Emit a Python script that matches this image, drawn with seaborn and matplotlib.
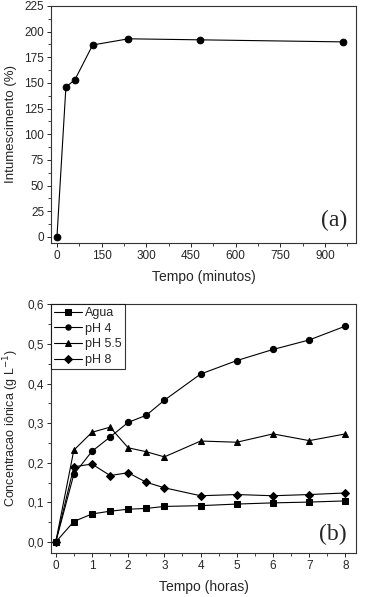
import numpy as np
import pandas as pd
import seaborn as sns
import matplotlib.pyplot as plt
from matplotlib.ticker import MultipleLocator, FuncFormatter

# (a) swelling vs time
tempo_min = [0, 30, 60, 120, 240, 480, 960]
intumesc = [0, 146, 153, 187, 193, 192, 190]

# (b) ionic concentration vs time
tempo_h = [0, 0.5, 1, 1.5, 2, 2.5, 3, 4, 5, 6, 7, 8]
agua = [0, 0.052, 0.071, 0.078, 0.083, 0.085, 0.090, 0.092, 0.096, 0.099, 0.101, 0.104]
ph4 = [0, 0.171, 0.229, 0.265, 0.302, 0.320, 0.358, 0.424, 0.458, 0.486, 0.510, 0.545]
ph55 = [0, 0.232, 0.277, 0.290, 0.238, 0.228, 0.215, 0.255, 0.252, 0.273, 0.256, 0.273]
ph8 = [0, 0.190, 0.197, 0.168, 0.175, 0.151, 0.137, 0.117, 0.120, 0.117, 0.120, 0.124]
series = ["Agua", "pH 4", "pH 5.5", "pH 8"]
marks = ["s", "o", "^", "D"]

sns.set_style("ticks")
plt.rcParams['font.family'] = ['Liberation Sans', 'DejaVu Sans']
plt.rcParams['xtick.direction'] = 'out'
plt.rcParams['ytick.direction'] = 'out'

fig = plt.figure(figsize=(3.67, 5.97), dpi=100)
ax1 = fig.add_axes([0.139, 0.593, 0.831, 0.397])
ax2 = fig.add_axes([0.139, 0.074, 0.831, 0.417])

dfa = pd.DataFrame({"t": tempo_min, "v": intumesc})
sns.lineplot(data=dfa, x="t", y="v", ax=ax1, color="black", marker="o",
             markersize=4.8, linewidth=0.8, markeredgecolor="black")
ax1.set_xlim(-20, 1004)
ax1.set_ylim(-6, 225)
ax1.xaxis.set_major_locator(MultipleLocator(150))
ax1.xaxis.set_minor_locator(MultipleLocator(75))
ax1.yaxis.set_major_locator(MultipleLocator(25))
ax1.yaxis.set_minor_locator(MultipleLocator(12.5))
ax1.set_xlabel("Tempo (minutos)", fontsize=10, labelpad=6)
ax1.set_ylabel("Intumescimento (%)", fontsize=9.5, labelpad=5)
ax1.text(0.97, 0.05, "(a)", transform=ax1.transAxes, ha="right", va="bottom",
         fontsize=17, family="Liberation Serif")

dfb = pd.DataFrame({"t": tempo_h * 4, "v": agua + ph4 + ph55 + ph8,
                    "s": np.repeat(series, len(tempo_h))})
sns.lineplot(data=dfb, x="t", y="v", style="s", markers=marks, dashes=False,
             ax=ax2, color="black", markersize=4.5, linewidth=0.8,
             markeredgecolor="black")
ax2.set_xlim(-0.13, 8.29)
ax2.set_ylim(-0.027, 0.601)
ax2.xaxis.set_major_locator(MultipleLocator(1))
ax2.xaxis.set_minor_locator(MultipleLocator(0.5))
ax2.yaxis.set_major_locator(MultipleLocator(0.1))
ax2.yaxis.set_minor_locator(MultipleLocator(0.05))
ax2.yaxis.set_major_formatter(FuncFormatter(lambda v, p: f"{v:.1f}".replace(".", ",")))
ax2.set_xlabel("Tempo (horas)", fontsize=10, labelpad=6)
ax2.set_ylabel("Concentracao iônica (g L$^{-1}$)", fontsize=9, labelpad=5)
ax2.text(0.97, 0.03, "(b)", transform=ax2.transAxes, ha="right", va="bottom",
         fontsize=17, family="Liberation Serif")
leg = ax2.legend(loc="upper left", fontsize=9, frameon=True, fancybox=False,
                 borderaxespad=0.0, handlelength=2.2, handletextpad=0.3,
                 borderpad=0.25, labelspacing=0.3, markerscale=0.85)
leg.get_frame().set_edgecolor("black")
leg.get_frame().set_linewidth(0.8)

for ax in (ax1, ax2):
    for sp in ax.spines.values():
        sp.set_visible(True)
        sp.set_linewidth(0.8)
        sp.set_color("#333333")
    ax.tick_params(which="major", labelsize=8.5, length=3, width=0.7, pad=2)
    ax.tick_params(which="minor", length=2, width=0.6)
    ax.tick_params(top=False, right=False)

fig.savefig("out.png", dpi=100)
